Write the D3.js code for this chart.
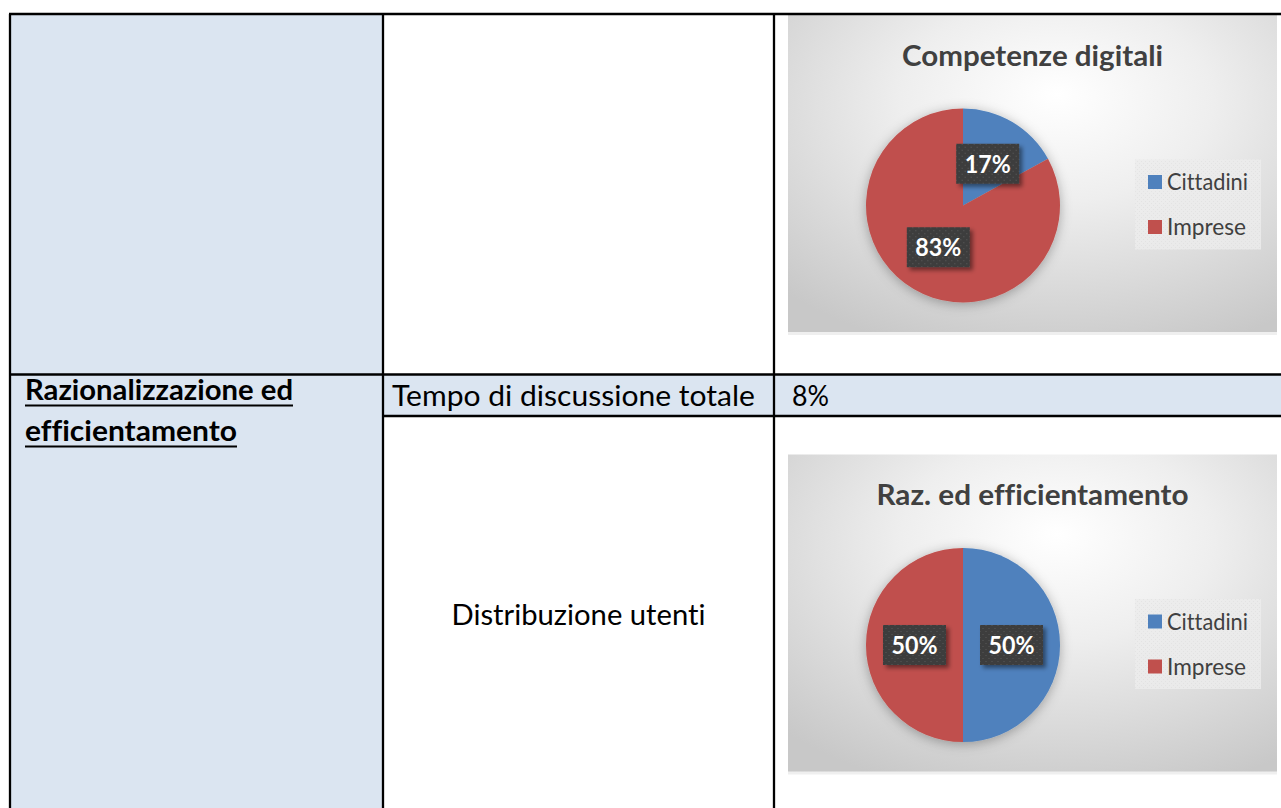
<!DOCTYPE html>
<html><head><meta charset="utf-8">
<script src="https://cdn.jsdelivr.net/npm/d3@7"></script>
<style>html,body{margin:0;padding:0;background:#fff;overflow:hidden} text{font-variant-ligatures:none;font-feature-settings:"liga" 0;}</style>
</head><body>
<svg id="c" width="1281" height="808"></svg>
<script>
// ---- data ----
const categories = ["Cittadini", "Imprese"];
const competenzeValues = [17, 83];
const razionalizzazioneValues = [50, 50];
const chartTitles = ["Competenze digitali", "Raz. ed efficientamento"];
const rowLabel = ["Razionalizzazione ed", "efficientamento"];
const metricLabels = ["Tempo di discussione totale", "Distribuzione utenti"];
const metricValue = "8%";
const sliceColors = ["#4f81bd", "#c0504d"];

const svg = d3.select("#c");
const FONT = "Lato, 'Open Sans', sans-serif";
const defs = svg.append("defs");

const grad = defs.append("radialGradient").attr("id", "bg")
  .attr("cx", 0.55).attr("cy", 0.3).attr("r", 0.8).attr("fx", 0.55).attr("fy", 0.25);
grad.append("stop").attr("offset", 0).attr("stop-color", "#ffffff");
grad.append("stop").attr("offset", 0.4).attr("stop-color", "#eeeeee");
grad.append("stop").attr("offset", 1).attr("stop-color", "#c8c8c8");

const sh = defs.append("filter").attr("id", "pieShadow").attr("x", "-30%").attr("y", "-30%").attr("width", "160%").attr("height", "160%");
sh.append("feDropShadow").attr("dx", 0).attr("dy", 2).attr("stdDeviation", 6)
  .attr("flood-color", "#000").attr("flood-opacity", 0.3);
const bs = defs.append("filter").attr("id", "boxShadow").attr("x", "-20%").attr("y", "-20%").attr("width", "150%").attr("height", "160%");
bs.append("feDropShadow").attr("dx", 3).attr("dy", 3).attr("stdDeviation", 2)
  .attr("flood-color", "#000").attr("flood-opacity", 0.45);

const pat = defs.append("pattern").attr("id", "dots").attr("patternUnits", "userSpaceOnUse")
  .attr("width", 6).attr("height", 6);
pat.append("rect").attr("width", 6).attr("height", 6).attr("fill", "#3d3d3d");
pat.append("rect").attr("x", 1).attr("y", 1).attr("width", 1).attr("height", 1).attr("fill", "#5c5c5c");
pat.append("rect").attr("x", 4).attr("y", 4).attr("width", 1).attr("height", 1).attr("fill", "#5c5c5c");

const lpat = defs.append("pattern").attr("id", "ldots").attr("patternUnits", "userSpaceOnUse")
  .attr("width", 4).attr("height", 4);
lpat.append("rect").attr("width", 4).attr("height", 4).attr("fill", "#ececec");
lpat.append("rect").attr("x", 1).attr("y", 1).attr("width", 1).attr("height", 1).attr("fill", "#e2e2e2");
lpat.append("rect").attr("x", 3).attr("y", 3).attr("width", 1).attr("height", 1).attr("fill", "#e2e2e2");

// ---- table layout ----
const X0 = 10, C1 = 383, C2 = 774, XR = 1281;
const Y0 = 14, R1 = 374.5, R2 = 416, YB = 808;
const fill = "#dbe5f1";

svg.append("rect").attr("x", X0).attr("y", Y0).attr("width", C1 - X0).attr("height", YB - Y0).attr("fill", fill);
svg.append("rect").attr("x", C1).attr("y", R1).attr("width", XR - C1).attr("height", R2 - R1).attr("fill", fill);

// text helper: font size gives glyph height, textLength gives width
function txt(parent, x, y, str, size, weight, width, anchor, color) {
  const t = parent.append("text").attr("x", x).attr("y", y).attr("font-family", FONT)
    .attr("font-size", size).attr("font-weight", weight || 400)
    .attr("text-anchor", anchor || "start").attr("fill", color || "#000").text(str);
  if (width) t.attr("textLength", width).attr("lengthAdjust", "spacingAndGlyphs");
  return t;
}

// ---- charts ----
const CX0 = 788, CX1 = 1277, CH = 317;
function drawChart(top, values, title, titleW) {
  const g = svg.append("g");
  g.append("rect").attr("x", CX0).attr("y", top + 3).attr("width", CX1 - CX0).attr("height", CH)
    .attr("fill", "#e4e4e4").attr("opacity", 0.6);
  g.append("rect").attr("x", CX0).attr("y", top).attr("width", CX1 - CX0).attr("height", CH)
    .attr("fill", "url(#bg)");
  txt(g, (CX0 + CX1) / 2, top + 50.5, title, 28, 700, titleW, "middle", "#404040");

  const cx = 963, cy = top + 190.5, r = 97;
  const pie = d3.pie().sort(null).value(d => d)(values);
  const arc = d3.arc().innerRadius(0).outerRadius(r);
  const pg = g.append("g").attr("transform", `translate(${cx},${cy})`);
  pg.append("g").attr("filter", "url(#pieShadow)").selectAll("path").data(pie).join("path")
    .attr("d", arc).attr("fill", (d, i) => sliceColors[i]);
  const lab = pg.selectAll("g.lab").data(pie).join("g").attr("class", "lab")
    .attr("transform", d => `translate(${arc.centroid(d)})`);
  lab.append("rect").attr("x", -31.5).attr("y", -20).attr("width", 63).attr("height", 40)
    .attr("fill", "url(#dots)").attr("filter", "url(#boxShadow)");
  lab.append("text").attr("y", 9).attr("text-anchor", "middle").attr("font-family", FONT)
    .attr("font-weight", 700).attr("font-size", 24.5).attr("fill", "#ffffff")
    .attr("textLength", 46).attr("lengthAdjust", "spacingAndGlyphs")
    .text(d => d.data + "%");

  // legend
  const lg = g.append("g");
  lg.append("rect").attr("x", 1135).attr("y", top + 144.5).attr("width", 126).attr("height", 90)
    .attr("fill", "url(#ldots)").attr("opacity", 0.85);
  categories.forEach((c, i) => {
    const yy = top + 160 + i * 45;
    lg.append("rect").attr("x", 1148).attr("y", yy).attr("width", 14).attr("height", 14)
      .attr("fill", sliceColors[i]);
    txt(lg, 1167, yy + 15, c, 23, 400, i === 0 ? 81 : 79, "start", "#404040");
  });
}
drawChart(15, competenzeValues, chartTitles[0], 261);
drawChart(454.5, razionalizzazioneValues, chartTitles[1], 312);

// ---- table text ----
const t1 = txt(svg, 25, 400, rowLabel[0], 28, 700, 268);
const t2 = txt(svg, 25, 441, rowLabel[1], 28, 700, 212);
[[t1, 268], [t2, 212]].forEach(([t, w], i) => {
  svg.append("line").attr("x1", 25).attr("x2", 25 + w).attr("y1", 405.5 + i * 41).attr("y2", 405.5 + i * 41)
    .attr("stroke", "#000").attr("stroke-width", 2);
});

txt(svg, 392, 406, metricLabels[0], 28, 400, 363);
txt(svg, 792, 406, metricValue, 28, 400, 37);
txt(svg, (C1 + C2) / 2, 625, metricLabels[1], 28, 400, 254, "middle");

// ---- table lines ----
const ln = (x1, y1, x2, y2) => svg.append("line").attr("x1", x1).attr("y1", y1).attr("x2", x2).attr("y2", y2)
  .attr("stroke", "#000").attr("stroke-width", 2.3);
ln(X0 - 1, Y0, XR, Y0);
ln(X0, Y0, X0, YB);
ln(C1, Y0, C1, YB);
ln(C2, Y0, C2, YB);
ln(X0, R1, XR, R1);
ln(C1, R2, XR, R2);
</script>
</body></html>
